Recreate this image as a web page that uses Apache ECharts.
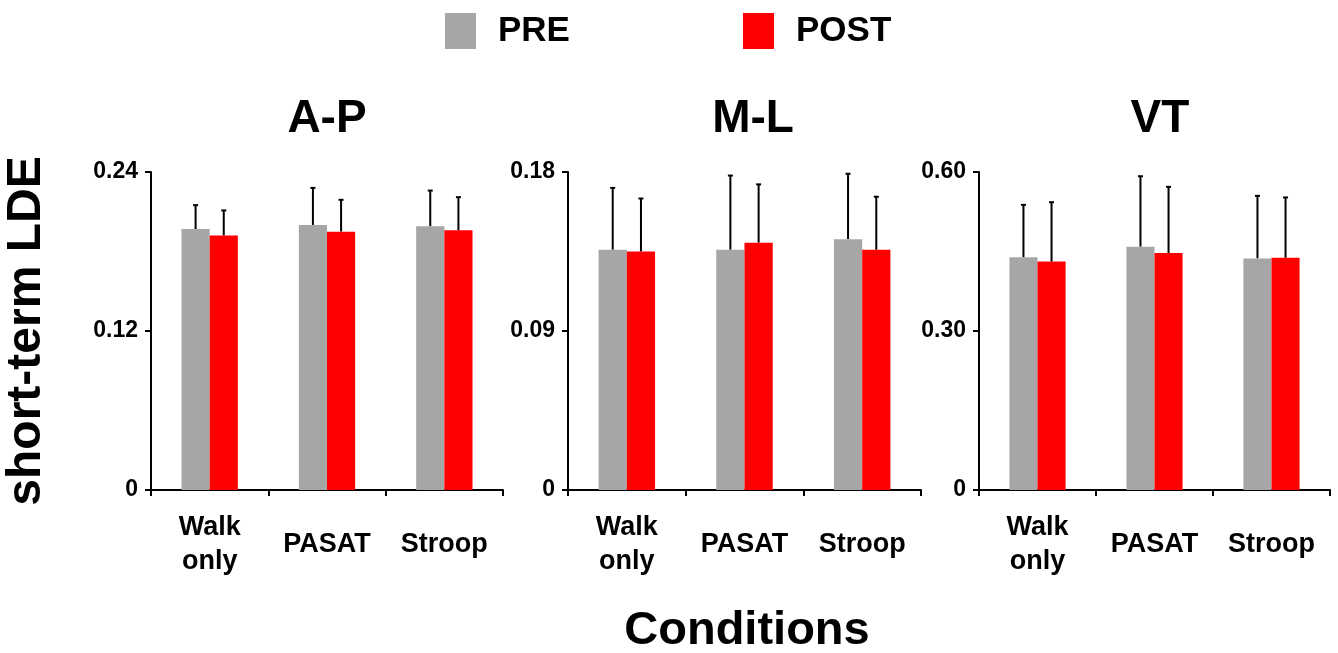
<!DOCTYPE html>
<html>
<head>
<meta charset="utf-8">
<script src="https://cdn.jsdelivr.net/npm/echarts@6/dist/echarts.min.js"></script>
<style>
  html, body { margin: 0; padding: 0; background: #fff; }
  #main { width: 1338px; height: 653px; }
</style>
</head>
<body>
<div id="main"></div>
<script>
// categories on each panel
var categories = ['Walk\nonly', 'PASAT', 'Stroop'];
var panelTitles = ['A-P', 'M-L', 'VT'];

// A-P
var apPre = [0.197, 0.200, 0.199];
var apPreSd = [0.018, 0.028, 0.027];
var apPost = [0.192, 0.195, 0.196];
var apPostSd = [0.019, 0.024, 0.025];

// M-L
var mlPre = [0.136, 0.136, 0.142];
var mlPreSd = [0.035, 0.042, 0.037];
var mlPost = [0.135, 0.140, 0.136];
var mlPostSd = [0.030, 0.033, 0.030];

// VT
var vtPre = [0.439, 0.459, 0.437];
var vtPreSd = [0.099, 0.133, 0.118];
var vtPost = [0.431, 0.447, 0.438];
var vtPostSd = [0.112, 0.125, 0.114];

// y axis ranges
var yMax = [0.24, 0.18, 0.60];
var yStep = [0.12, 0.09, 0.30];

var FONT = '"Liberation Sans", Arial, sans-serif';
var GRAY = '#a6a6a6';
var RED = '#ff0000';
var BAR_FRAC = 0.24;

var chart = echarts.init(document.getElementById('main'));

var grids = [
  { left: 151, right: 835, top: 172, bottom: 163 },
  { left: 568, right: 417, top: 172, bottom: 163 },
  { left: 979, right: 8, top: 172, bottom: 163 }
];
var centers = [322, 748, 1155];

function errSeries(mean, sd, side, idx) {
  var data = mean.map(function (m, i) { return [i, m + sd[i], m]; });
  return {
    type: 'custom',
    xAxisIndex: idx,
    yAxisIndex: idx,
    silent: true,
    z: 1,
    data: data,
    renderItem: function (params, api) {
      var base = api.coord([api.value(0), api.value(2)]);
      var top = api.coord([api.value(0), api.value(1)]);
      var band = api.size([1, 0])[0];
      var x = base[0] + side * band * BAR_FRAC / 2;
      var st = { stroke: '#000', lineWidth: 2 };
      return {
        type: 'group',
        children: [
          { type: 'line', shape: { x1: x, y1: base[1], x2: x, y2: top[1] }, style: st },
          { type: 'line', shape: { x1: x - 2.5, y1: top[1], x2: x + 2.5, y2: top[1] }, style: st }
        ]
      };
    }
  };
}

var sets = [
  [apPre, apPreSd, apPost, apPostSd],
  [mlPre, mlPreSd, mlPost, mlPostSd],
  [vtPre, vtPreSd, vtPost, vtPostSd]
];

var xAxes = [], yAxes = [], series = [], titles = [];
sets.forEach(function (s, i) {
  xAxes.push({
    type: 'category',
    gridIndex: i,
    data: categories,
    axisLine: { lineStyle: { color: '#000', width: 2 } },
    axisTick: { show: true, length: 6, lineStyle: { color: '#000', width: 2 } },
    axisLabel: {
      color: '#000', fontFamily: FONT, fontWeight: 'bold', fontSize: 27,
      lineHeight: 34, margin: 55, verticalAlign: 'middle', interval: 0
    }
  });
  yAxes.push({
    type: 'value',
    gridIndex: i,
    min: 0,
    max: yMax[i],
    interval: yStep[i],
    splitLine: { show: false },
    axisLine: { show: true, lineStyle: { color: '#000', width: 2 } },
    axisTick: { show: true, length: 6, lineStyle: { color: '#000', width: 2 } },
    axisLabel: {
      color: '#000', fontFamily: FONT, fontWeight: 'bold', fontSize: 23, margin: 13,
      formatter: function (v) { return v === 0 ? '0' : v.toFixed(2); }
    },
    name: i === 0 ? 'short-term LDE' : '',
    nameLocation: 'middle',
    nameGap: 100,
    nameRotate: 90,
    nameTextStyle: { color: '#000', fontFamily: FONT, fontWeight: 'bold', fontSize: 48 }
  });
  series.push({
    name: 'PRE', type: 'bar', xAxisIndex: i, yAxisIndex: i,
    data: s[0], barWidth: (BAR_FRAC * 100) + '%', barGap: '0%',
    itemStyle: { color: GRAY }, z: 2
  });
  series.push({
    name: 'POST', type: 'bar', xAxisIndex: i, yAxisIndex: i,
    data: s[2], barWidth: (BAR_FRAC * 100) + '%', barGap: '0%',
    itemStyle: { color: RED }, z: 2
  });
  series.push(errSeries(s[0], s[1], -1, i));
  series.push(errSeries(s[2], s[3], 1, i));
  titles.push({
    text: panelTitles[i], left: centers[i], top: 91, textAlign: 'center',
    textStyle: { color: '#000', fontFamily: FONT, fontWeight: 'bold', fontSize: 46 }
  });
});

titles.push({
  text: 'Conditions', left: 742, top: 603, textAlign: 'center',
  textStyle: { color: '#000', fontFamily: FONT, fontWeight: 'bold', fontSize: 47 }
});

var legendText = { color: '#000', fontFamily: FONT, fontWeight: 'bold', fontSize: 35, padding: [0, 0, 0, 17] };

var option = {
  animation: false,
  backgroundColor: '#fff',
  title: titles,
  legend: [
    { data: ['PRE'], left: 440, top: 8, icon: 'rect', itemWidth: 31, itemHeight: 36, textStyle: legendText },
    { data: ['POST'], left: 738, top: 8, icon: 'rect', itemWidth: 31, itemHeight: 36, textStyle: legendText }
  ],
  grid: grids,
  xAxis: xAxes,
  yAxis: yAxes,
  series: series
};

chart.setOption(option);
</script>
</body>
</html>
